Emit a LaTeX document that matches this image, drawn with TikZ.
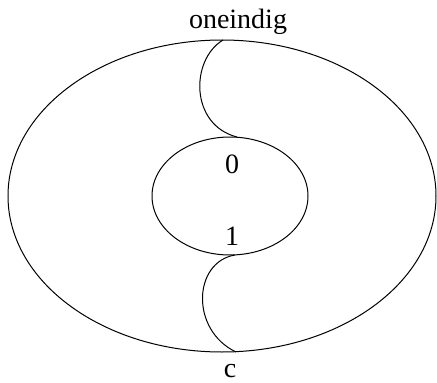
\documentclass[tikz,border=0pt]{standalone}
\usepackage{fontspec}
\setmainfont{Liberation Serif}
\usetikzlibrary{positioning}

\begin{document}
\begin{tikzpicture}[x=1pt, y=-1pt, line width=1pt,
    lbl/.style={anchor=base, inner sep=0pt, font=\fontsize{28}{34}\selectfont}]
    \useasboundingbox (0,0) rectangle (437,383);
    % the two rings
    \draw (222,196) ellipse [x radius=214, y radius=156];
    \draw (230,196) ellipse [x radius=78, y radius=59];
    % points where the curves meet the rings
    \coordinate (inf) at (223,40);
    \coordinate (zero) at (237,137);
    \coordinate (one) at (235,255);
    \coordinate (cpt) at (236,352);
    \draw (inf) .. controls (190,60) and (190,125) .. (zero);
    \draw (one) .. controls (193,262) and (190,330) .. (cpt);
    \node[lbl] (lbl-inf) at (238,28) {oneindig};
    \node[lbl] (lbl-zero) at (232,173) {0};
    \node[lbl] (lbl-one) at (232,245) {1};
    \node[lbl] (lbl-c) at (230,377) {c};
  \end{tikzpicture}
\end{document}
